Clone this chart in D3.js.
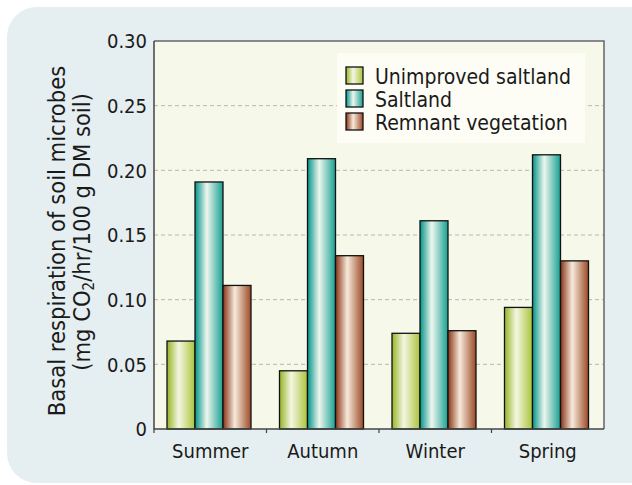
<!DOCTYPE html>
<html>
<head>
<meta charset="utf-8">
<script src="https://cdn.jsdelivr.net/npm/d3@7"></script>
<style>
  html, body { margin: 0; padding: 0; background: #fff; }
  text { font-family: "DejaVu Sans Condensed", "DejaVu Sans", sans-serif; fill: #1a1a1a; }
</style>
</head>
<body>
<div id="chart"></div>
<script>
const seasons = ['Summer', 'Autumn', 'Winter', 'Spring']
const seriesNames = ['Unimproved saltland', 'Saltland', 'Remnant vegetation']
const unimproved = [0.068, 0.045, 0.074, 0.094]
const saltland = [0.191, 0.209, 0.161, 0.212]
const remnant = [0.111, 0.134, 0.076, 0.130]
const yTicks = [0, 0.05, 0.10, 0.15, 0.20, 0.25, 0.30]

const seriesValues = [unimproved, saltland, remnant]
const gradStops = [
  ['#96b424', '#f4f6e2', '#a9c43a'],
  ['#00948a', '#eef6ee', '#17a092'],
  ['#8a3216', '#f6eadb', '#9c4a26']
]

const width = 632
const height = 485
const plot = { left: 154, top: 41, right: 604, bottom: 429 }

const svg = d3.select('#chart')
  .append('svg')
  .attr('width', width)
  .attr('height', height)

const defs = svg.append('defs')
gradStops.forEach((stops, i) => {
  const g = defs.append('linearGradient')
    .attr('id', 'grad' + i)
    .attr('x1', 0).attr('x2', 1).attr('y1', 0).attr('y2', 0)
  g.append('stop').attr('offset', '0%').attr('stop-color', stops[0])
  g.append('stop').attr('offset', '42%').attr('stop-color', stops[1])
  g.append('stop').attr('offset', '100%').attr('stop-color', stops[2])
})

// card background
svg.append('rect')
  .attr('x', 7).attr('y', 7)
  .attr('width', 660).attr('height', 476)
  .attr('rx', 30)
  .attr('fill', '#e5eef0')

const x0 = d3.scaleBand().domain(seasons).range([plot.left, plot.right])
const x1 = d3.scaleBand().domain(seriesNames).range([13, 97])
const y = d3.scaleLinear().domain([0, 0.30]).range([plot.bottom, plot.top])

svg.append('rect')
  .attr('x', plot.left).attr('y', plot.top)
  .attr('width', plot.right - plot.left).attr('height', plot.bottom - plot.top)
  .attr('fill', '#f6f8ea')

// dashed gridlines
svg.append('g')
  .selectAll('line')
  .data(yTicks.filter(t => t > 0 && t < 0.30))
  .enter()
  .append('line')
  .attr('x1', plot.left).attr('x2', plot.right)
  .attr('y1', d => y(d)).attr('y2', d => y(d))
  .attr('stroke', '#b8b8b4')
  .attr('stroke-width', 1)
  .attr('stroke-dasharray', '4,3')

// legend box
svg.append('rect')
  .attr('x', 337).attr('y', 53)
  .attr('width', 248).attr('height', 90)
  .attr('fill', '#fdfdf6')

// bars
const groups = svg.append('g')
  .selectAll('g')
  .data(seasons)
  .enter()
  .append('g')
  .attr('transform', d => `translate(${x0(d)},0)`)

groups.selectAll('rect')
  .data((d, i) => seriesNames.map((s, k) => ({ s, k, v: seriesValues[k][i] })))
  .enter()
  .append('rect')
  .attr('x', d => x1(d.s))
  .attr('y', d => y(d.v))
  .attr('width', x1.bandwidth())
  .attr('height', d => y(0) - y(d.v))
  .attr('fill', d => `url(#grad${d.k})`)
  .attr('stroke', '#111')
  .attr('stroke-width', 1.3)

// plot frame
svg.append('path')
  .attr('d', `M${plot.left},${plot.top}H${plot.right}V${plot.bottom}`)
  .attr('fill', 'none')
  .attr('stroke', '#666')
  .attr('stroke-width', 1.5)
svg.append('path')
  .attr('d', `M${plot.left},${plot.top}V${plot.bottom}H${plot.right}`)
  .attr('fill', 'none')
  .attr('stroke', '#444')
  .attr('stroke-width', 1.5)

// x ticks and labels
svg.append('g')
  .selectAll('line')
  .data(seasons)
  .enter()
  .append('line')
  .attr('x1', d => x0(d)).attr('x2', d => x0(d))
  .attr('y1', plot.bottom).attr('y2', plot.bottom + 4)
  .attr('stroke', '#444')
  .attr('stroke-width', 1.2)

svg.append('g')
  .selectAll('text')
  .data(seasons)
  .enter()
  .append('text')
  .attr('x', d => x0(d) + x0.bandwidth() / 2)
  .attr('y', 458)
  .attr('text-anchor', 'middle')
  .style('font-size', '20px')
  .text(d => d)

// y tick labels
svg.append('g')
  .selectAll('text')
  .data(yTicks)
  .enter()
  .append('text')
  .attr('x', 147)
  .attr('y', d => y(d))
  .attr('dy', '0.36em')
  .attr('text-anchor', 'end')
  .style('font-size', '20px')
  .text(d => d === 0 ? '0' : d3.format('.2f')(d))

// y axis title, two lines
svg.append('text')
  .attr('transform', 'translate(65,241) rotate(-90)')
  .attr('text-anchor', 'middle')
  .style('font-size', '23.5px')
  .text('Basal respiration of soil microbes')
const line2 = svg.append('text')
  .attr('transform', 'translate(90,232) rotate(-90)')
  .attr('text-anchor', 'middle')
  .style('font-size', '23.5px')
line2.append('tspan').text('(mg CO')
line2.append('tspan').style('font-size', '15px').attr('dy', 4).text('2')
line2.append('tspan').attr('dy', -4).text('/hr/100 g DM soil)')

// legend
const legend = svg.append('g')
  .selectAll('g')
  .data(seriesNames)
  .enter()
  .append('g')
  .attr('transform', (d, i) => `translate(346,${67 + i * 23})`)

legend.append('rect')
  .attr('width', 17).attr('height', 17)
  .attr('fill', (d, i) => `url(#grad${i})`)
  .attr('stroke', '#111')
  .attr('stroke-width', 1.3)

legend.append('text')
  .attr('x', 29)
  .attr('y', 17)
  .style('font-size', '21px')
  .text(d => d)
</script>
</body>
</html>
